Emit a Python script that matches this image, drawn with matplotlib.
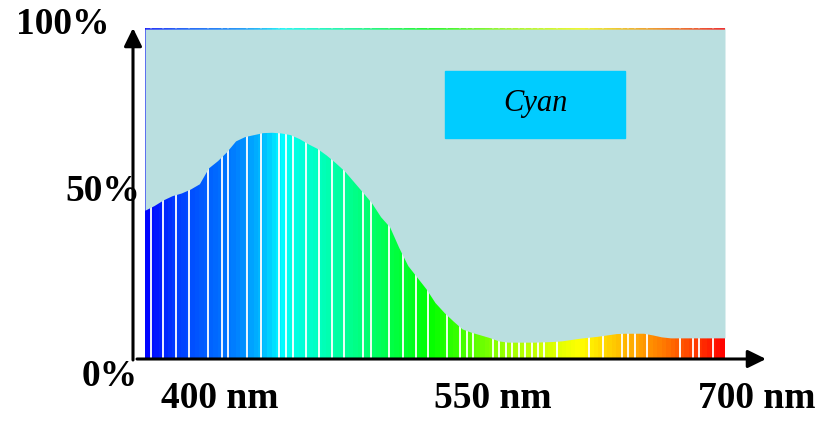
import numpy as np
import matplotlib
matplotlib.use('Agg')
import matplotlib.pyplot as plt
from matplotlib.patches import FancyArrowPatch, Rectangle
from matplotlib.colors import hsv_to_rgb

# reflectance of a cyan surface, read every 5 nm
wavelengths = list(range(380, 705, 5))
reflectance = [0.448, 0.462, 0.479, 0.492, 0.500, 0.512, 0.528, 0.576, 0.598, 0.625,
               0.658, 0.671, 0.677, 0.683, 0.684, 0.682, 0.677, 0.665, 0.649, 0.635,
               0.615, 0.592, 0.567, 0.535, 0.503, 0.470, 0.428, 0.397, 0.335, 0.280,
               0.245, 0.210, 0.168, 0.138, 0.112, 0.088, 0.078, 0.070, 0.062, 0.052,
               0.048, 0.048, 0.048, 0.048, 0.049, 0.050, 0.052, 0.056, 0.060, 0.063,
               0.066, 0.070, 0.074, 0.075, 0.075, 0.075, 0.070, 0.064, 0.061, 0.061,
               0.061, 0.061, 0.061, 0.061, 0.061]
# white separators between spectrum strips (nm)
separators = [383.5, 390, 397, 404.5, 415, 422.5, 426, 436.5, 444, 454, 458, 461.5,
              469, 476, 483, 490, 500.5, 504.5, 514.5, 522.5, 529.5, 536, 546.5,
              554, 557.5, 561, 572, 575.5, 579, 582.5, 586.5, 589.5, 593.5, 597,
              600, 607.5, 625, 632.5, 643, 646.5, 650.5, 657, 675, 682.5, 685.5, 693.5]
# hue of the spectrum (degrees) at some wavelengths
hue_wl = [380, 399, 430, 446, 460, 493, 537, 581, 620, 664, 700]
hue_deg = [240, 225, 210, 195, 175, 154, 120, 82, 60, 30, 0]
y_labels = ['0%', '50%', '100%']
x_labels = ['400 nm', '550 nm', '700 nm']
swatch_label = 'Cyan'

W, H = 839, 421
fig = plt.figure(figsize=(W / 100, H / 100), dpi=100)
ax = fig.add_axes([145 / W, (H - 358) / H, 580 / W, 330 / H])
ax.set_xlim(380, 700)
ax.set_ylim(0, 1)
ax.axis('off')

# spectrum background in narrow strips
strips = np.arange(380, 700, 2.5)
hues = np.interp(strips + 1.25, hue_wl, hue_deg) / 360
cols = [hsv_to_rgb([h, 1, 1]) for h in hues]
ax.bar(strips, 1.0, width=2.5, align='edge', color=cols, linewidth=0)
for s in separators:
    ax.axvline(s, color='white', lw=1.3, zorder=2)

# grey area above the curve
ax.fill_between(wavelengths, reflectance, 1.0, color='#badfe0', linewidth=0, zorder=3)
# faded spectrum edge along the top
ax.bar(strips, 0.005, bottom=0.995, width=2.5, align='edge', color=cols,
       alpha=0.55, linewidth=0, zorder=4)

# swatch box
fig.add_artist(Rectangle((445 / W, 1 - 138 / H), 180 / W, 67 / H,
                         transform=fig.transFigure, color='#00ccff', zorder=5))
fig.text(535 / W, 1 - 103 / H, swatch_label, ha='center', va='center',
         family='Liberation Serif', style='italic', fontsize=22, zorder=6)

# axis arrows
astyle = '-|>,head_length=0.55,head_width=0.27'
fig.add_artist(FancyArrowPatch((133, H - 360), (133, H - 28), transform=None,
                               arrowstyle=astyle, mutation_scale=20, lw=2.2,
                               color='black', shrinkA=0, shrinkB=0))
fig.add_artist(FancyArrowPatch((137, H - 359), (766, H - 359), transform=None,
                               arrowstyle=astyle, mutation_scale=20, lw=2.2,
                               color='black', shrinkA=0, shrinkB=0))

font = dict(family='Liberation Serif', weight='bold', fontsize=27)
for lab, (px, py) in zip(y_labels, [(110, 377), (103, 192), (63, 24)]):
    fig.text(px / W, 1 - py / H, lab, ha='center', va='center', **font)
for lab, px in zip(x_labels, [220, 493, 757]):
    fig.text(px / W, 1 - 399 / H, lab, ha='center', va='center', **font)

fig.savefig('out.png', dpi=100)
